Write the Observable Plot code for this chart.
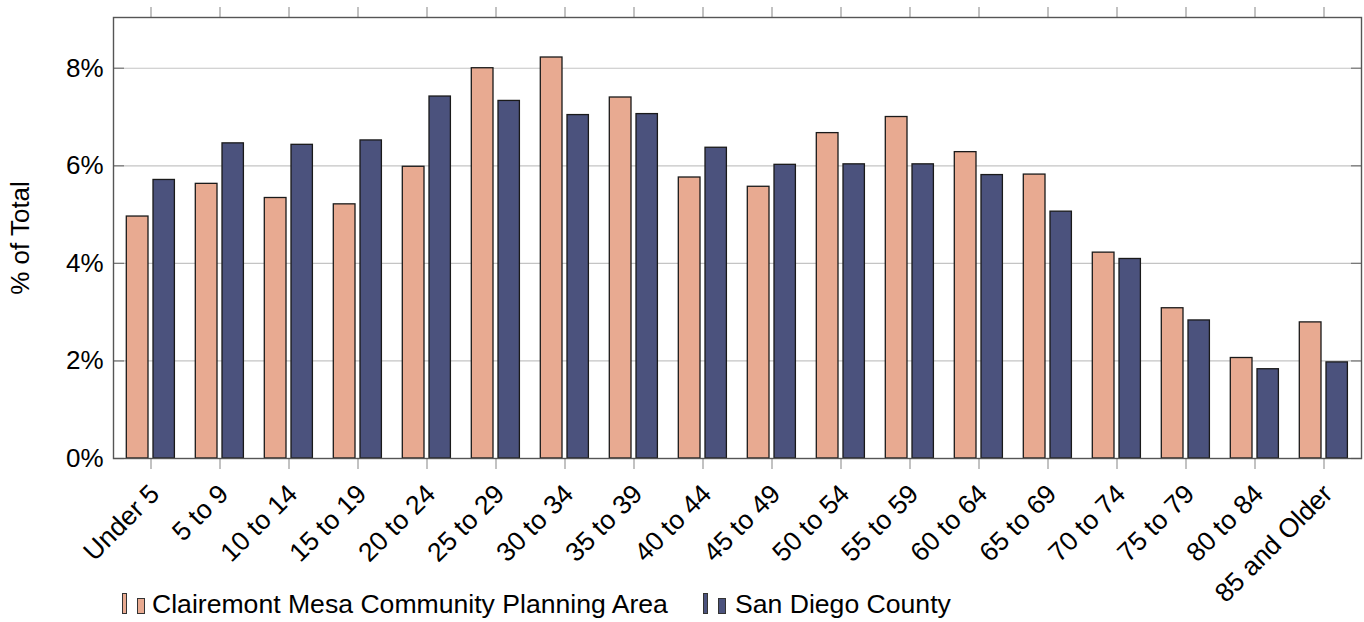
<!DOCTYPE html>
<html>
<head>
<meta charset="utf-8">
<script src="https://cdn.jsdelivr.net/npm/d3@7"></script>
<script src="https://cdn.jsdelivr.net/npm/@observablehq/plot@0.6"></script>
<style>
  html, body { margin: 0; padding: 0; background: #fff; }
  #wrap { position: relative; width: 1364px; height: 622px; font-family: "Liberation Sans", Arial, Helvetica, sans-serif; }
  #chart { position: absolute; left: 0; top: 0; }
  #legend { position: absolute; left: 0; top: 588px; width: 1100px; height: 34px; }
  .entry { position: absolute; top: 0; height: 34px; }
  .sw { position: absolute; box-sizing: border-box; border: 1px solid #333; }
  .lt { position: absolute; top: 3px; font-size: 26.6px; line-height: 26px; color: #000; white-space: nowrap; }
</style>
</head>
<body>
<div id="wrap">
  <div id="chart"></div>
  <div id="legend"></div>
</div>
<script>
const categories = ["Under 5","5 to 9","10 to 14","15 to 19","20 to 24","25 to 29","30 to 34","35 to 39","40 to 44","45 to 49","50 to 54","55 to 59","60 to 64","65 to 69","70 to 74","75 to 79","80 to 84","85 and Older"];
const seriesNames = ["Clairemont Mesa Community Planning Area", "San Diego County"];
const clairemont = [4.96, 5.63, 5.34, 5.21, 5.98, 8.00, 8.22, 7.40, 5.76, 5.57, 6.67, 7.00, 6.28, 5.82, 4.22, 3.08, 2.06, 2.79];
const sanDiego   = [5.71, 6.46, 6.43, 6.52, 7.42, 7.33, 7.04, 7.06, 6.37, 6.02, 6.03, 6.03, 5.81, 5.06, 4.09, 2.83, 1.83, 1.97];
const yTicks = [0, 2, 4, 6, 8];
const colors = ["#E8AA91", "#4B527D"];

const dataA = categories.map((c, i) => ({cat: c, v: clairemont[i]}));
const dataB = categories.map((c, i) => ({cat: c, v: sanDiego[i]}));

const font = '"Liberation Sans", Arial, Helvetica, sans-serif';

const chart = Plot.plot({
  width: 1364,
  height: 622,
  marginLeft: 113,
  marginRight: 3,
  marginTop: 17,
  marginBottom: 164,
  style: {fontFamily: font, fontSize: "26px", color: "#000", background: "transparent"},
  x: {domain: categories, padding: 0},
  y: {domain: [0, 9.04]},
  marks: [
    Plot.gridY(yTicks.slice(1), {stroke: "#c4c4c4", strokeOpacity: 1, strokeWidth: 1.2}),
    Plot.barY(dataA, {x: "cat", y: "v", fill: colors[0], stroke: "#1a1a1a", strokeWidth: 1.3, insetLeft: 10.3, insetRight: 37.0}),
    Plot.barY(dataB, {x: "cat", y: "v", fill: colors[1], stroke: "#1a1a1a", strokeWidth: 1.3, insetLeft: 37.0, insetRight: 10.6}),
    Plot.axisY(yTicks, {anchor: "left", tickSize: 0, tickPadding: 10, tickFormat: d => d + "%", fontSize: 26,
      label: "% of Total", labelAnchor: "center", labelArrow: "none", labelOffset: 103}),
    Plot.axisY(yTicks, {anchor: "left", tickSize: -11, tickFormat: () => "", label: null, stroke: "#777", strokeWidth: 1.2}),
    Plot.axisY(yTicks, {anchor: "right", tickSize: -11, tickFormat: () => "", label: null, stroke: "#777", strokeWidth: 1.2}),
    Plot.axisX({anchor: "bottom", tickSize: 0, tickRotate: -45, tickPadding: 31, dx: 4, fontSize: 26.5, label: null}),
    Plot.axisX({anchor: "bottom", tickSize: 11, tickFormat: () => "", label: null, stroke: "#999", strokeWidth: 1.2}),
    Plot.axisX({anchor: "top", tickSize: 11, tickFormat: () => "", label: null, stroke: "#999", strokeWidth: 1.2}),
    Plot.frame({stroke: "#555", strokeWidth: 1.4})
  ]
});
document.getElementById("chart").appendChild(chart);

// legend
const legend = document.getElementById("legend");
const entryX = [122, 703];
const textX = [30, 32];
seriesNames.forEach((name, i) => {
  const e = document.createElement("div");
  e.className = "entry";
  e.style.left = entryX[i] + "px";
  const s1 = document.createElement("div");
  s1.className = "sw";
  Object.assign(s1.style, {left: "0px", top: "5px", width: "5px", height: "21px", background: colors[i]});
  const s2 = document.createElement("div");
  s2.className = "sw";
  Object.assign(s2.style, {left: "15px", top: "10px", width: "8px", height: "16px", background: colors[i]});
  const t = document.createElement("div");
  t.className = "lt";
  t.style.left = textX[i] + "px";
  t.textContent = name;
  e.append(s1, s2, t);
  legend.appendChild(e);
});
</script>
</body>
</html>
